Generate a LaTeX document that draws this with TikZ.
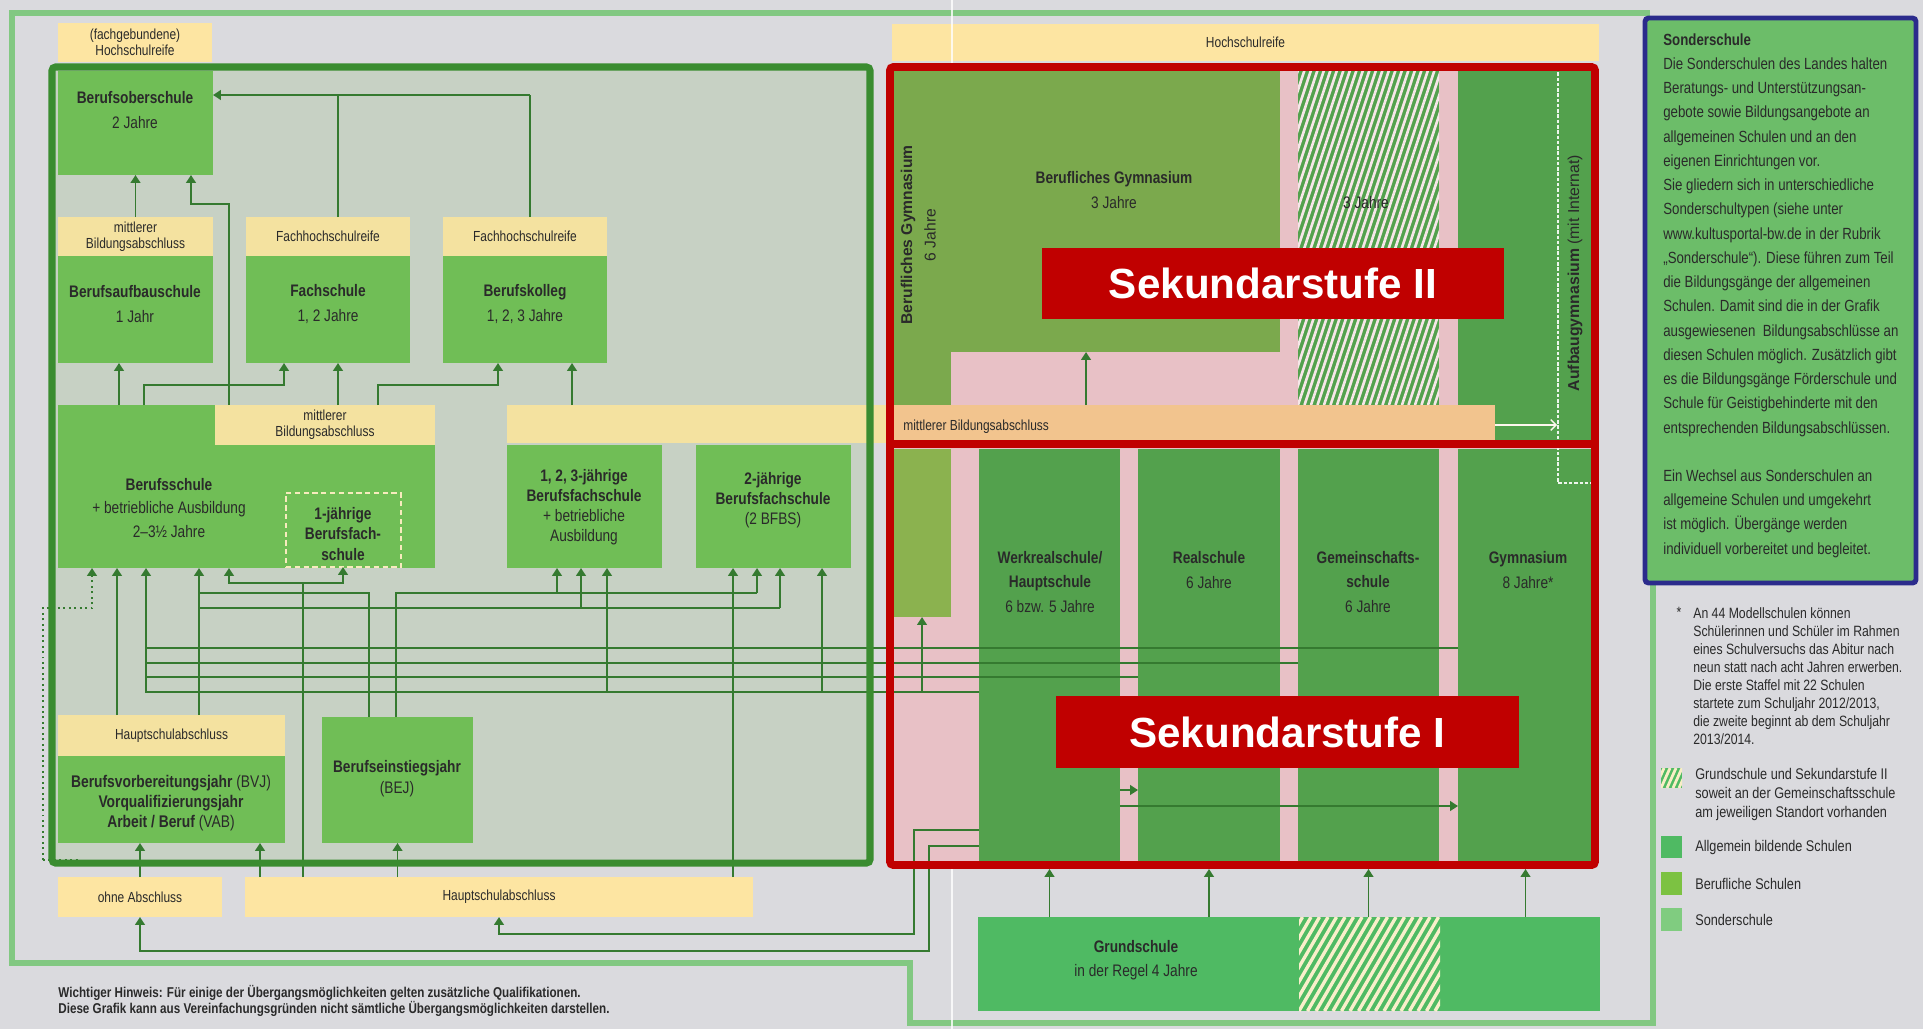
\documentclass[tikz,border=0pt]{standalone}
\usepackage{fontspec}
\setmainfont{Liberation Sans}
\newfontfamily\cf[FakeStretch=0.82]{Liberation Sans}
\usetikzlibrary{arrows.meta}
\definecolor{bgc}{HTML}{DADADE}
\definecolor{lgf}{HTML}{82C882}
\definecolor{frg}{HTML}{3A8C30}
\definecolor{inn}{HTML}{C7D1C4}
\definecolor{gbox}{HTML}{70BE56}
\definecolor{ylw}{HTML}{F4E2A0}
\definecolor{ylw2}{HTML}{FDE5A2}
\definecolor{lnc}{HTML}{357A30}
\definecolor{redc}{HTML}{C00000}
\definecolor{olive}{HTML}{7BA94D}
\definecolor{olive2}{HTML}{8BB24F}
\definecolor{pnk}{HTML}{E8C1C6}
\definecolor{sgr}{HTML}{53A14D}
\definecolor{orng}{HTML}{F2C48E}
\definecolor{agb}{HTML}{4FBA63}
\definecolor{bfsc}{HTML}{7CC242}
\definecolor{sosc}{HTML}{80CC80}
\definecolor{sbox}{HTML}{6CBD69}
\definecolor{blu}{HTML}{2B2B8C}
\definecolor{txt}{HTML}{2A2A2A}
\newcommand\bx[6]{\node[inner sep=0pt, outer sep=0pt, anchor=north west, #1, minimum width={(#5-#3)*0.02cm}, minimum height={(#6-#4)*0.02cm}] (#2) at (#3,#4) {};}
% x1 y1 x2 y2 base stripe width period slope
\newcommand\hatch[9]{%
  \begin{scope}
  \clip (#1,#2) rectangle (#3,#4);
  \fill[#5] (#1,#2) rectangle (#3,#4);
  \foreach \k in {-30,...,40}{\draw[#6, line width=#7] ({#1+\k*#8},#4) -- ++({(#4-#2)*#9},{-(#4-#2)});}
  \end{scope}}
\tikzset{
  gb/.style={fill=gbox},
  yb/.style={fill=ylw},
  ln/.style={draw=lnc, line width=1.1pt},
  arr/.style={ln, -{Triangle[width=5.5pt,length=4.5pt]}},
  darr/.style={arr, dotted},
  tb/.style={font=\cf\bfseries\fontsize{9.5}{14}\selectfont, text=txt, align=center, inner sep=0pt},
  tr/.style={font=\cf\fontsize{9.5}{14}\selectfont, text=txt, align=center, inner sep=0pt},
  ty/.style={font=\cf\fontsize{8.3}{9}\selectfont, text=txt, align=center, inner sep=0pt},
  sek/.style={font=\bfseries\fontsize{24}{28}\selectfont, text=white, inner sep=0pt},
  legt/.style={anchor=west, inner sep=0pt, font=\cf\fontsize{8.8}{10.8}\selectfont, text=txt},
}
\begin{document}
\begin{tikzpicture}[x=0.02cm,y=-0.02cm]
\useasboundingbox (0,0) rectangle (1923,1029);
\fill[bgc] (0,0) rectangle (1923,1029);
\draw[lgf, line width=3pt] (1650,13) -- (12,13) -- (12,963) -- (910,963) -- (910,1023) -- (1653,1023) -- (1653,580);

\foreach \v in {43,92,117,119,144,146,191,199,229,260,284,303,338,343,369,378,396,498,530,557,572,581,607,733,757,780,822,914,922,929,1086,1558}{\coordinate (x\v) at (\v,0);}
\foreach \v in {425,483,583,593,608,648,663,677,692,790,806,830,846,934,951}{\coordinate (y\v) at (0,\v);}

% top yellow bars
\bx{fill=ylw2}{fhr}{58}{23}{212}{62}
\bx{fill=ylw2}{hr}{892}{24}{1599}{61}
\draw[white, line width=0.6pt, opacity=0.8] (952,0) -- (952,1029);

% left frame interior and boxes
\fill[inn] (52,67) rectangle (870,863);
\bx{gb}{bos}{58}{71}{213}{175}
\bx{yb}{basl}{58}{217}{213}{256}
\bx{gb}{bas}{58}{256}{213}{363}
\bx{yb}{fsl}{246}{217}{410}{256}
\bx{gb}{fs}{246}{256}{410}{363}
\bx{yb}{bkl}{443}{217}{607}{256}
\bx{gb}{bk}{443}{256}{607}{363}
\bx{gb}{bs}{58}{405}{435}{568}
\bx{yb}{bsl}{215}{405}{435}{445}
\bx{draw=ylw!70!white, densely dashed, line width=0.6pt}{ebfs}{286}{493}{401}{567}
\bx{yb}{mbar}{507}{405}{892}{443}
\bx{gb}{bfs3}{507}{445}{662}{568}
\bx{gb}{bfs2}{696}{445}{851}{568}
\bx{yb}{bvjl}{58}{715}{285}{756}
\bx{gb}{bvj}{58}{756}{285}{843}
\bx{gb}{bej}{322}{717}{473}{843}
\bx{fill=ylw2}{ohne}{58}{877}{222}{917}
\bx{fill=ylw2}{hsa}{245}{877}{753}{917}

% right region fills
\fill[pnk] (892,67) rectangle (1593,863);
\bx{fill=olive}{bg6}{892}{67}{951}{405}
\bx{fill=olive}{bg3}{951}{67}{1280}{352}
\hatch{1298}{67}{1439}{405}{sgr}{pnk!40!white}{1.5pt}{6.5}{0.33}
\coordinate (gms2) at (1368.5,236);
\bx{fill=sgr}{agy}{1458}{67}{1593}{441}
\bx{fill=orng}{mbar2}{892}{405}{1495}{441}
\bx{fill=olive2}{bg6b}{892}{449}{951}{617}
\bx{fill=sgr}{wrs}{979}{449}{1120}{863}
\bx{fill=sgr}{rs}{1138}{449}{1280}{863}
\bx{fill=sgr}{gms}{1298}{449}{1439}{863}
\bx{fill=sgr}{gym}{1458}{449}{1593}{863}

% Grundschule
\bx{fill=agb}{gs}{978}{917}{1600}{1011}
\hatch{1299}{917}{1440}{1011}{agb}{ylw!55!white}{1.9pt}{8.5}{0.58}

% connectors: to Berufsoberschule
\draw[arr] (basl.north) -- (bos.south);
\draw[arr] (bs.north -| x229) -- ++(0,-201) -| (bos.south -| x191);
\draw[ln] (bkl.north -| x530) -- ++(0,-122) coordinate (a3t);
\draw[arr] (a3t) -- (a3t -| bos.east);
\draw[ln] (fsl.north -| x338) -- (a3t -| x338);
% to row 2
\draw[arr] (bs.north -| x119) -- (bas.south -| x119);
\draw[arr] (bs.north -| x144) -- ++(0,-20) -| (fs.south -| x284);
\draw[arr] (bsl.north -| x338) -- (fs.south -| x338);
\draw[arr] (bsl.north -| x378) -- ++(0,-20) -| (bk.south -| x498);
\draw[arr] (mbar.north -| x572) -- (bk.south -| x572);
% to row 3
\coordinate (dotend) at (43,860);
\draw[darr] (dotend) -- ++(0,-252) -| (bs.south -| x92);
\draw[lnc, line width=1.1pt, dotted] (dotend) -- ++(37,0);
\draw[arr] (bvjl.north -| x117) -- (bs.south -| x117);
\draw[ln] (gym.west |- y648) -- (y648 -| x146);
\draw[ln] (gms.west |- y663) -- (y663 -| x146);
\draw[ln] (rs.west |- y677) -- (y677 -| x146);
\draw[arr] (wrs.west |- y692) -- (y692 -| x146) -- (bs.south -| x146);
\draw[arr] (y692 -| x607) -- (bfs3.south -| x607);
\draw[arr] (y692 -| x822) -- (bfs2.south -| x822);
\draw[arr] (bvjl.north -| x199) -- (bs.south -| x199);
\draw[ln] (bej.north -| x369) |- (y593 -| x199);
\draw[ln] (y608 -| x199) -- (y608 -| x780);
\draw[arr] (y608 -| x581) -- (bfs3.south -| x581);
\draw[arr] (y608 -| x780) -- (bfs2.south -| x780);
\draw[ln] (hsa.north -| x303) -- (y583 -| x303);
\draw[arr] (y583 -| x303) -| (bs.south -| x229);
\draw[arr] (y583 -| x303) -| (ebfs.south -| x343);
\draw[ln] (bej.north -| x396) |- (y593 -| x757);
\draw[arr] (y593 -| x757) -- (bfs2.south -| x757);
\draw[arr] (y593 -| x557) -- (bfs3.south -| x557);
\draw[arr] (hsa.north -| x733) -- (bfs2.south -| x733);
% bottom
\draw[arr] (ohne.north) -- (bvj.south -| ohne.north);
\draw[arr] (hsa.north -| x260) -- (bvj.south -| x260);
\draw[arr] (hsa.north -| bej.south) -- (bej.south);
\draw[arr] (wrs.west |- y830) -- (y830 -| x914) |- (y934 -| hsa.south) -- (hsa.south);
\draw[arr] (wrs.west |- y846) -- (y846 -| x929) |- (y951 -| ohne.south) -- (ohne.south);
\foreach \n in {wrs,rs,gms,gym}{\draw[arr] (gs.north -| \n.south) -- ([yshift=-3.4pt]\n.south);}
% inside Sek I / II
\draw[arr] (y692 -| x922) -- (bg6b.south -| x922);
\draw[arr] (wrs.east |- y790) -- (rs.west |- y790);
\draw[arr] (wrs.east |- y806) -- (gym.west |- y806);
\draw[arr] (mbar2.north -| x1086) -- (bg3.south -| x1086);
\draw[white!85!orng, line width=0.8pt, -{Straight Barb[length=3pt]}] (mbar2.east |- y425) -- ++(62,0);
\draw[white!90!sgr, line width=0.8pt, dash pattern=on 2pt off 1pt] (agy.north -| x1558) -- (y483 -| x1558) -- (y483 -| agy.east);

% frames
\draw[frg, line width=4pt, rounded corners=2pt] (52,67) rectangle (870,863);
\draw[redc, line width=4.5pt, rounded corners=2pt] (890,67) rectangle (1595,865);
\draw[redc, line width=4.5pt] (890,444) -- (1595,444);

% left texts
\node[ty] (tfhr) at (fhr) {(fachgebundene)\\Hochschulreife};
\node[tr] (tbos) at (135,110) {\textbf{Berufsoberschule}\\2 Jahre};
\node[ty] (tbasl) at (basl) {mittlerer\\Bildungsabschluss};
\node[ty] (tfsl) at (fsl) {Fachhochschulreife};
\node[ty] (tbkl) at (bkl) {Fachhochschulreife};
\node[tr] (tbas) at (135,304) {\textbf{Berufsaufbauschule}\\1 Jahr};
\node[tr] (tfs) at (328,304) {\textbf{Fachschule}\\1, 2 Jahre};
\node[tr] (tbk) at (525,304) {\textbf{Berufskolleg}\\1, 2, 3 Jahre};
\node[ty] (tbsl) at (bsl) {mittlerer\\Bildungsabschluss};
\node[tr, font=\cf\fontsize{9.5}{13.6}\selectfont] (tbs) at (169,508) {\textbf{Berufsschule}\\+ betriebliche Ausbildung\\2–3½ Jahre};
\node[tb, font=\cf\bfseries\fontsize{9.5}{11.6}\selectfont] (tebfs) at (343,534) {1-jährige\\Berufsfach-\\schule};
\node[tr, font=\cf\fontsize{9.5}{11.3}\selectfont] (tbfs3) at (584,507) {\textbf{1, 2, 3-jährige}\\\textbf{Berufsfachschule}\\+ betriebliche\\Ausbildung};
\node[tr, font=\cf\fontsize{9.5}{11.3}\selectfont] (tbfs2) at (773,500) {\textbf{2-jährige}\\\textbf{Berufsfachschule}\\(2 BFBS)};
\node[ty] (tbvjl) at (bvjl) {Hauptschulabschluss};
\node[tr, font=\cf\fontsize{9.6}{11.6}\selectfont] (tbvj) at (171,803) {\textbf{Berufsvorbereitungsjahr} (BVJ)\\\textbf{Vorqualifizierungsjahr}\\\textbf{Arbeit / Beruf} (VAB)};
\node[tr, font=\cf\fontsize{9.5}{11.8}\selectfont] (tbej) at (397,779) {\textbf{Berufseinstiegsjahr}\\(BEJ)};
\node[ty] (tohne) at (ohne) {ohne Abschluss};
\node[ty] (thsa) at (hsa) {Hauptschulabschluss};
\node[font=\cf\bfseries\fontsize{8.1}{9.1}\selectfont, text=txt, align=left, inner sep=0pt, anchor=north west] (hinw) at (58,985) {Wichtiger Hinweis: Für einige der Übergangsmöglichkeiten gelten zusätzliche Qualifikationen.\\Diese Grafik kann aus Vereinfachungsgründen nicht sämtliche Übergangsmöglichkeiten darstellen.};

% right texts
\node[ty] (thr) at (hr) {Hochschulreife};
\node[tr] (tbg3) at (1114,190) {\textbf{Berufliches Gymnasium}\\3 Jahre};
\node[tr] (tgms2) at (1366,203) {3 Jahre};
\node[rotate=90, font=\bfseries\fontsize{8.9}{10}\selectfont, text=txt, inner sep=0pt] (tbg6) at (908,235) {Berufliches Gymnasium};
\node[rotate=90, font=\fontsize{8.9}{10}\selectfont, text=txt, inner sep=0pt] (tbg6j) at (930,235) {6 Jahre};
\node[rotate=90, font=\fontsize{9}{10}\selectfont, text=txt, inner sep=0pt] (tagy) at (1575,273) {\textbf{Aufbaugymnasium} (mit Internat)};
\node[ty, anchor=west] (tmbar2) at (903,427) {mittlerer Bildungsabschluss};
\node[tr, font=\cf\fontsize{9.5}{13.9}\selectfont] (twrs) at (1050,582) {\textbf{Werkrealschule/}\\\textbf{Hauptschule}\\6 bzw. 5 Jahre};
\node[tr, font=\cf\fontsize{9.5}{13.9}\selectfont] (trs) at (1209,570) {\textbf{Realschule}\\6 Jahre};
\node[tr, font=\cf\fontsize{9.5}{13.9}\selectfont] (tgms) at (1368,582) {\textbf{Gemeinschafts-}\\\textbf{schule}\\6 Jahre};
\node[tr, font=\cf\fontsize{9.5}{13.9}\selectfont] (tgym) at (1528,570) {\textbf{Gymnasium}\\8 Jahre*};
\node[tr, font=\cf\fontsize{9.5}{13.6}\selectfont] (tgs) at (1136,960) {\textbf{Grundschule}\\in der Regel 4 Jahre};

% Sekundarstufe labels
\bx{fill=redc}{sek2}{1042}{248}{1504}{319}
\node[sek] (tsek2) at (sek2) {Sekundarstufe II};
\bx{fill=redc}{sek1}{1056}{696}{1519}{768}
\node[sek] (tsek1) at (sek1) {Sekundarstufe I};

% Sonderschule box
\bx{fill=sbox, draw=blu, line width=2.8pt, rounded corners=2pt}{sobox}{1645}{18}{1916}{583}
\node[anchor=north west, align=left, inner sep=0pt, font=\cf\fontsize{9.2}{13.8}\selectfont, text=txt] (sotext) at (1663,33) {\textbf{Sonderschule}\\Die Sonderschulen des Landes halten\\Beratungs- und Unterstützungsan-\\gebote sowie Bildungsangebote an\\allgemeinen Schulen und an den\\eigenen Einrichtungen vor.\\Sie gliedern sich in unterschiedliche\\Sonderschultypen (siehe unter\\www.kultusportal-bw.de in der Rubrik\\„Sonderschule“). Diese führen zum Teil\\die Bildungsgänge der allgemeinen\\Schulen. Damit sind die in der Grafik\\ausgewiesenen\ \ Bildungsabschlüsse an\\diesen Schulen möglich. Zusätzlich gibt\\es die Bildungsgänge Förderschule und\\Schule für Geistigbehinderte mit den\\entsprechenden Bildungsabschlüssen.\\[13.8pt]Ein Wechsel aus Sonderschulen an\\allgemeine Schulen und umgekehrt\\ist möglich. Übergänge werden\\individuell vorbereitet und begleitet.};

% footnote and legend
\node[font=\cf\fontsize{8.5}{10.3}\selectfont, text=txt, inner sep=0pt] (star) at (1679,612) {*};
\node[anchor=north west, align=left, inner sep=0pt, font=\cf\fontsize{8.5}{10.3}\selectfont, text=txt] (fnote) at (1693,607) {An 44 Modellschulen können\\Schülerinnen und Schüler im Rahmen\\eines Schulversuchs das Abitur nach\\neun statt nach acht Jahren erwerben.\\Die erste Staffel mit 22 Schulen\\startete zum Schuljahr 2012/2013,\\die zweite beginnt ab dem Schuljahr\\2013/2014.};
\hatch{1661}{768}{1682}{788}{agb}{ylw!60!white}{1.6pt}{6}{0.45}
\coordinate (lg0) at (1671.5,778);
\node[anchor=north west, align=left, inner sep=0pt, font=\cf\fontsize{8.8}{10.8}\selectfont, text=txt] (lgt0) at (1695,768) {Grundschule und Sekundarstufe II\\soweit an der Gemeinschaftsschule\\am jeweiligen Standort vorhanden};
\bx{fill=agb}{lg1}{1661}{836}{1682}{858}
\bx{fill=bfsc}{lg2}{1661}{872}{1682}{895}
\bx{fill=sosc}{lg3}{1661}{908}{1682}{931}
\node[legt] (lgt1) at (1695,847) {Allgemein bildende Schulen};
\node[legt] (lgt2) at (1695,884) {Berufliche Schulen};
\node[legt] (lgt3) at (1695,920) {Sonderschule};
\end{tikzpicture}
\end{document}
